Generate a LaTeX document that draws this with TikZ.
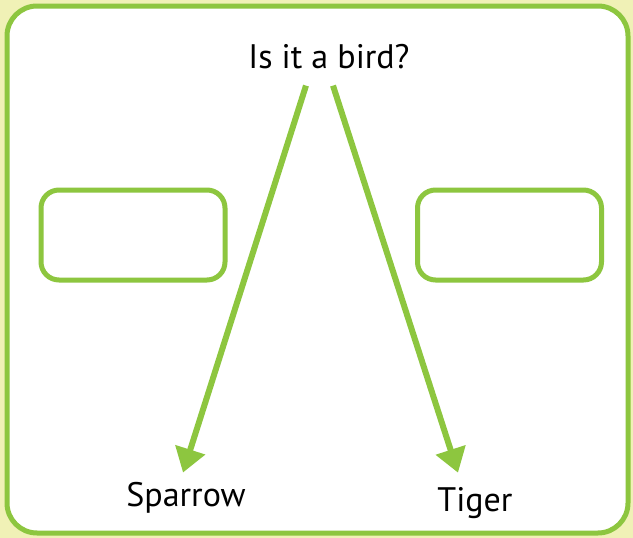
\documentclass[tikz,border=0pt]{standalone}
\usepackage{fontspec}
\setmainfont{PT Sans}
\usetikzlibrary{arrows.meta, positioning, calc}
\definecolor{leaf}{HTML}{8DC63F}
\definecolor{paleleaf}{HTML}{F0F1B6}

\begin{document}
\begin{tikzpicture}[x=1pt, y=-1pt,
	framebox/.style={draw=leaf, line width=5pt, rounded corners=30pt, fill=white},
	answerbox/.style={rectangle, draw=leaf, line width=5pt, rounded corners=18pt, minimum width=184pt, minimum height=90pt},
	label/.style={font=\fontsize{34}{38}\selectfont, inner sep=0pt, anchor=base},
	arrow/.style={-{Triangle[length=24pt, width=30pt]}, leaf, line width=6pt}
	]
	
	%Background and frame
	\fill[paleleaf] (0,0) rectangle (633,538);
	\draw[framebox] (7,6) rectangle (628,533);
	
	\node[label] (question) at (329,68) {Is it a bird?};
	\node[answerbox] (leftbox) at (133,235) {};
	\node[answerbox] (rightbox) at (509.5,235) {};
	\node[label] (sparrow) at (186,506) {Sparrow};
	\node[label] (tiger) at (475,511) {Tiger};
	
	\draw[arrow] ($(question.south)+(-23,17)$) -- ($(sparrow.north)+(-3,-9)$);
	\draw[arrow] ($(question.south)+(4,17)$) -- ($(tiger.north)+(-17,-14)$);
\end{tikzpicture}
\end{document}
